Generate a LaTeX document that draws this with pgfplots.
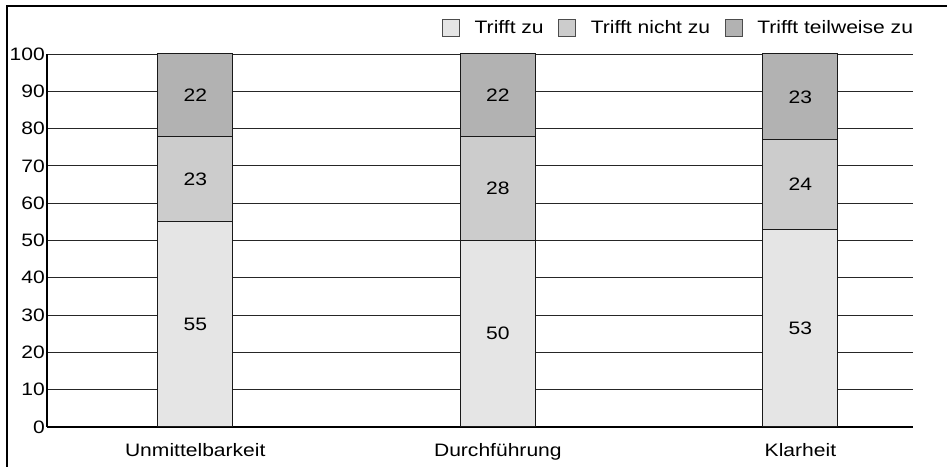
\documentclass[border=0pt]{standalone}
\usepackage{pgfplots}
\pgfplotsset{compat=1.18}
\usepackage{fontspec}
\setmainfont{Liberation Sans}[FakeStretch=1.17]

\definecolor{zu}{HTML}{E5E5E5}
\definecolor{nichtzu}{HTML}{CCCCCC}
\definecolor{teilweise}{HTML}{B2B2B2}

\begin{document}
\begin{tikzpicture}
\path[use as bounding box] (0pt,0pt) rectangle (710.25pt,350.25pt);
% frame lines of the figure
\draw[black, line width=0.8pt] (5.25pt,0pt) -- (5.25pt,345.75pt) -- (710.25pt,345.75pt);
\begin{axis}[
  at={(35.25pt,30pt)}, anchor=south west,
  scale only axis,
  width=649.5pt, height=279.75pt,
  ybar stacked,
  bar width=56.25pt,
  xmin=-0.49, xmax=2.372,
  ymin=0, ymax=100,
  xtick=data,
  xticklabels={Unmittelbarkeit, Durchführung, Klarheit},
  ytick={0,10,...,100},
  major tick length=0pt,
  axis x line*=bottom,
  axis y line*=left,
  axis line style={black, line width=0.8pt, -},
  ymajorgrids,
  major grid style={black!85, line width=0.6pt},
  font=\fontsize{13.5}{16}\selectfont,
  tick label style={font=\fontsize{13.5}{16}\selectfont},
  /pgf/number format/assume math mode=true,
  yticklabel style={inner xsep=1.5pt},
  xticklabel style={yshift=-9pt},
  % values are written in the middle of their segments
  nodes near coords,
  every node near coord/.append style={anchor=center,
    font=\fontsize{13.5}{16}\selectfont, text=black},
  legend columns=3,
  legend style={at={(1.008,1.07)}, anchor=east, draw=none, fill=none,
    font=\fontsize{13.5}{16}\selectfont,
    /tikz/every odd column/.append style={column sep=9pt},
    /tikz/every even column/.append style={column sep=9pt}},
  legend image code/.code={\draw[#1, draw=black!70, line width=0.6pt] (0pt,-6.4pt) rectangle (12.75pt,6.4pt);},
]
\addplot[fill=zu, draw=black!90, line width=0.75pt] coordinates {(0,55) (1,50) (2,53)};
\addplot[fill=nichtzu, draw=black!90, line width=0.75pt] coordinates {(0,23) (1,28) (2,24)};
\addplot[fill=teilweise, draw=black!90, line width=0.75pt] coordinates {(0,22) (1,22) (2,23)};
\legend{Trifft zu, Trifft nicht zu, Trifft teilweise zu}
\end{axis}
\end{tikzpicture}
\end{document}
